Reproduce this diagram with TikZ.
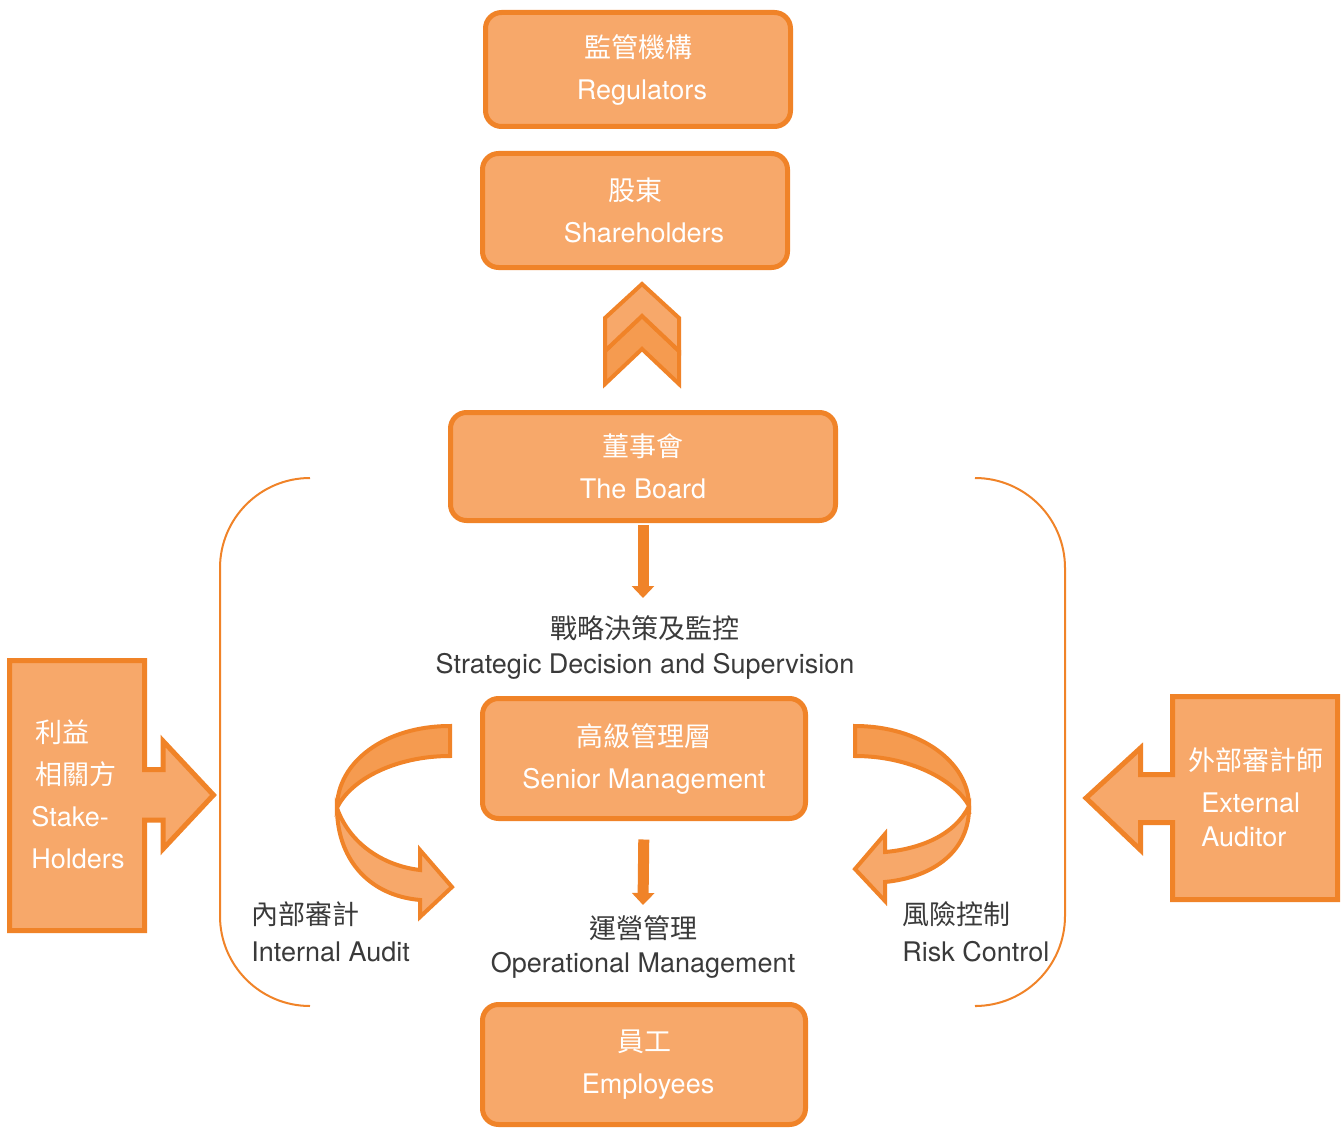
\documentclass[tikz,border=0pt]{standalone}
\usepackage{fontspec}
\setmainfont{TeX Gyre Heros}
\newfontfamily\cjk{Noto Sans CJK TC}
\usetikzlibrary{arrows.meta}
\definecolor{orfill}{HTML}{F7A86A}
\definecolor{orline}{HTML}{F08328}
\definecolor{ordark}{HTML}{F59B50}
\definecolor{txtgray}{HTML}{3A3A3A}
\begin{document}
\begin{tikzpicture}[x=0.5pt,y=-0.5pt,
  box/.style={draw=orline, fill=orfill, line width=2.5pt, rounded corners=8pt,
    text=white, align=center, inner sep=0pt,
    font=\fontsize{13.5pt}{21pt}\selectfont},
  lbl/.style={text=txtgray, inner sep=0pt, font=\fontsize{13.5pt}{17.5pt}\selectfont},
  wlbl/.style={text=white, inner sep=0pt, align=left, font=\fontsize{13.5pt}{21pt}\selectfont},
  blockarrow/.style={draw=orline, fill=orfill, line width=2.5pt, line join=miter},
  chev/.style={draw=orline, line width=2pt, line join=miter},
  ribbon/.style={draw=orline, line width=2pt, line join=miter},
  flow/.style={draw=orline, line width=5.5pt, -{Triangle[width=11pt,length=6pt]}},
  bracket/.style={draw=orline, line width=1pt, rounded corners=45pt}]
\useasboundingbox (0,0) rectangle (1344,1129);

% brackets
\draw[bracket] (310,478) -- (220,478) -- (220,1006) -- (310,1006);
\draw[bracket] (977,478) -- (1065,478) -- (1065,1006) -- (977,1006);

% boxes
\node[box, minimum width=152.5pt, minimum height=57pt] (reg) at (638,69.5) {{\cjk 監管機構}\\\hspace*{4pt}Regulators};
\node[box, minimum width=152.5pt, minimum height=57pt] (share) at (635,210.5) {{\cjk 股東}\\\hspace*{9pt}Shareholders};
\node[box, minimum width=192.5pt, minimum height=54pt] (board) at (643,466.5) {{\cjk 董事會}\\The Board};
\node[box, minimum width=161.5pt, minimum height=60pt] (senior) at (644,758.5) {{\cjk 高級管理層}\\Senior Management};
\node[box, minimum width=161.5pt, minimum height=60pt] (emp) at (644,1064.5) {{\cjk 員工}\\\hspace*{4pt}Employees};

% chevrons
\draw[chev, fill=ordark] (605,351)--(642,316)--(679,351)--(679,384)--(642,349)--(605,384)--cycle;
\draw[chev, fill=orfill] (605,318)--(642,284)--(679,318)--(679,351)--(642,316)--(605,351)--cycle;

% labels
\node[lbl, align=center] (strat) at (645,647.5) {{\cjk 戰略決策及監控}\\Strategic Decision and Supervision};
\node[lbl, align=center, font=\fontsize{13.5pt}{17pt}\selectfont] (op) at (643,947) {{\cjk 運營管理}\\Operational Management};
\node[lbl, align=left, anchor=west, font=\fontsize{13.5pt}{18.5pt}\selectfont] (ia) at (251,931.5) {{\cjk 內部審計}\\Internal Audit};
\node[lbl, align=left, anchor=west, font=\fontsize{13.5pt}{18.5pt}\selectfont] (rc) at (902,931.5) {{\cjk 風險控制}\\Risk Control};

% flow arrows
\coordinate (c1) at (643,598);
\coordinate (c2) at (643,905);
\draw[flow, shorten <=1pt] (board.south) -- (c1);
\draw[flow, shorten <=9.25pt] (senior.south) -- (c2);

% stakeholders block arrow
\draw[blockarrow] (9.5,660.5) -- (144.5,660.5) -- (144.5,769.5) -- (163,769.5) -- (163,741)
  -- (213.5,795) -- (163,849) -- (163,820) -- (144.5,820) -- (144.5,930.5) -- (9.5,930.5) -- cycle;
\node[wlbl, anchor=west] (stake) at (31,794.5) {\hspace*{2pt}{\cjk 利益}\\\hspace*{2pt}{\cjk 相關方}\\Stake-\\Holders};

% external auditor block arrow
\draw[blockarrow] (1172.5,696.5) -- (1337.5,696.5) -- (1337.5,899.5) -- (1172.5,899.5) -- (1172.5,822.5)
  -- (1140.5,822.5) -- (1140.5,850) -- (1086,798) -- (1140.5,748) -- (1140.5,774.5) -- (1172.5,774.5) -- cycle;
\node[wlbl, anchor=center] (extcn) at (1255.5,760) {\cjk 外部審計師};
\node[wlbl, anchor=west, font=\fontsize{13.5pt}{17pt}\selectfont] (exten) at (1201,820) {External\\Auditor};

% internal audit curved arrow
\draw[ribbon, fill=orfill] (337,808) .. controls (350,845) and (385,866) .. (420,870) -- (420,850)
  -- (452,887) -- (420,917) -- (420,900) .. controls (365,895) and (337,855) .. (337,808) -- cycle;
\draw[ribbon, fill=ordark] (450,726) .. controls (385,726) and (337,762) .. (337,808)
  .. controls (350,780) and (395,756) .. (450,756) -- cycle;

% risk control curved arrow
\draw[ribbon, fill=orfill] (969,806) .. controls (955,835) and (920,849) .. (885,852) -- (885,834)
  -- (855,869) -- (885,901) -- (885,882) .. controls (935,877) and (970,850) .. (969,806) -- cycle;
\draw[ribbon, fill=ordark] (855,726) .. controls (920,726) and (969,762) .. (969,806)
  .. controls (955,780) and (910,756) .. (855,756) -- cycle;
\end{tikzpicture}
\end{document}
